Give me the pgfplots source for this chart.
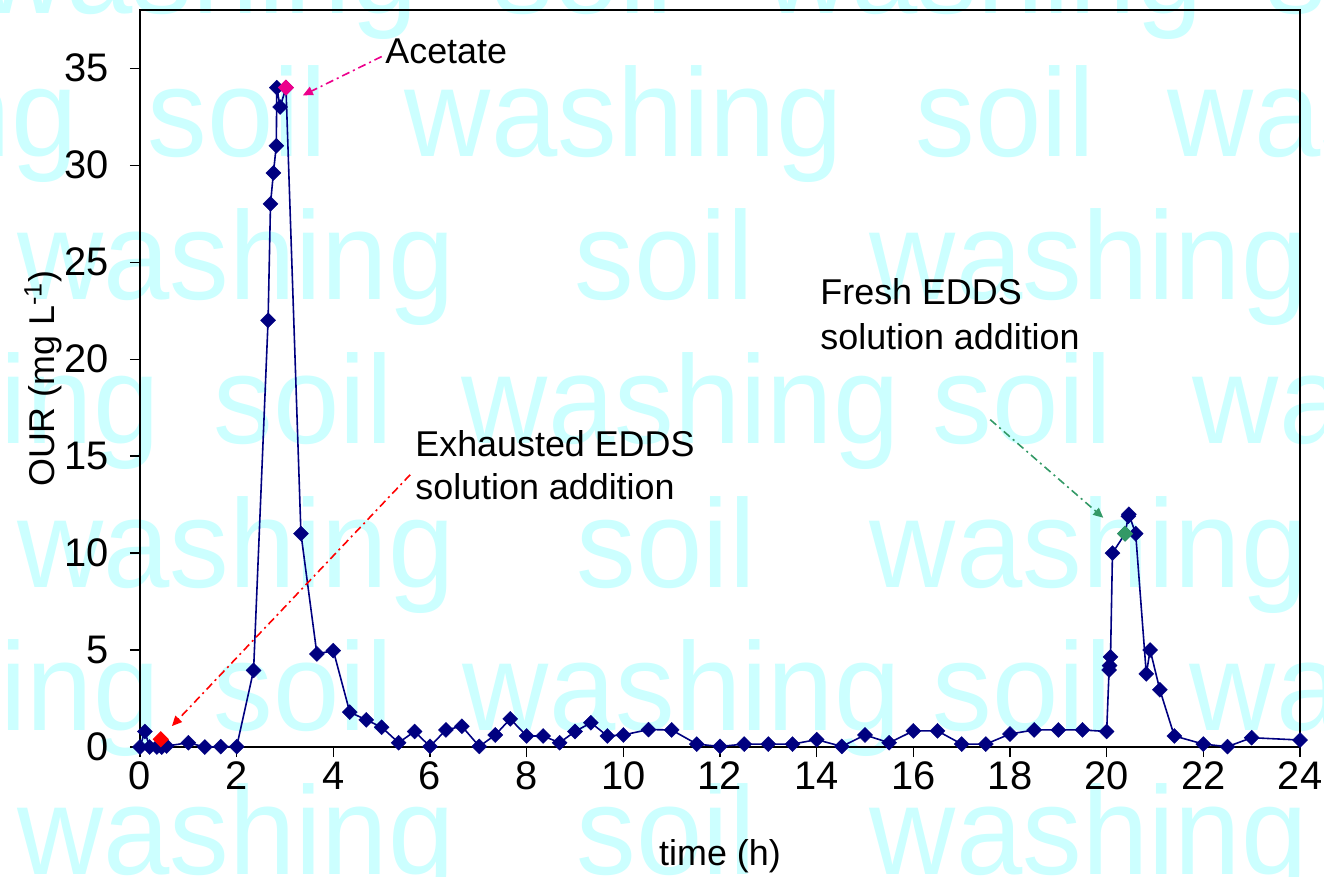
\documentclass[border=0pt]{standalone}
\usepackage{fontspec}
\setmainfont{Liberation Sans}
\newfontfamily\wmfont[FakeStretch=0.95]{Liberation Sans}
\usepackage{pgfplots}
\pgfplotsset{compat=1.18}
\usetikzlibrary{arrows.meta}
\definecolor{wm}{RGB}{204,255,255}
\definecolor{navyb}{RGB}{0,0,128}
\definecolor{sgreen}{RGB}{51,153,102}
\begin{document}
\begin{tikzpicture}
\useasboundingbox (0,0) rectangle (662bp,-438.5bp);
\begin{scope}[x=0.5bp,y=-0.5bp,every node/.style={anchor=base west,inner sep=0,outer sep=0,text=wm,font=\wmfont\fontsize{63}{63}\selectfont}]
% row A
\node at (-20,13) {washing}; \node at (494,13) {soil}; \node at (765,13) {washing}; \node at (1267,13) {soil};
% row B
\node at (-360,157) {washing}; \node at (148,157) {soil}; \node at (405,157) {washing}; \node at (916,157) {soil}; \node at (1168,157) {washing};
% row C
\node at (17,300) {washing}; \node at (575,300) {soil}; \node at (870,300) {washing};
% row D
\node at (-278,444) {washing}; \node at (214,444) {soil}; \node at (462,444) {washing}; \node at (933,444) {soil}; \node at (1193,444) {washing};
% row E
\node at (17,588) {washing}; \node at (577,588) {soil}; \node at (870,588) {washing};
% row F
\node at (-278,731) {washing}; \node at (214,731) {soil}; \node at (463,731) {washing}; \node at (933,731) {soil}; \node at (1190,731) {washing};
% row G
\node at (17,875) {washing}; \node at (577,875) {soil}; \node at (870,875) {washing};
\end{scope}
\begin{axis}[
  at={(70bp,-373.5bp)}, anchor=south west,
  width=580bp, height=368.5bp, scale only axis,
  xmin=0, xmax=24, ymin=0, ymax=38,
  xtick={0,2,...,24}, ytick={0,5,...,35},
  xtick pos=bottom, ytick pos=left,
  tick align=outside, major tick length=5bp,
  tick style={black, line width=0.6pt},
  axis line style={black, line width=0.8pt},
  /pgf/number format/assume math mode=true,
  ticklabel style={font=\fontsize{20}{22}\selectfont},
  yticklabel style={xshift=-7bp},
  xticklabel style={yshift=1bp},
  label style={font=\fontsize{18}{20}\selectfont},
  xlabel={time (h)},
  ylabel={OUR (mg L\textsuperscript{-1})},
  xlabel style={at={(axis description cs:0.5,0)}, anchor=base, yshift=-59bp},
  ylabel style={at={(axis description cs:0,0.5)}, anchor=base, yshift=43bp},
  clip=false,
]
\addplot[navyb, line width=0.8pt, mark=square*, mark size=2.65bp, mark options={rotate=45, fill=navyb, draw=navyb, line width=0.2pt}] coordinates {
(0,0) (0.1,0.8) (0.2,0) (0.35,0) (0.45,0) (0.55,0.05)
(1.0,0.22) (1.34,0) (1.67,0.02) (2.0,0.02) (2.35,3.95)
(2.65,22) (2.7,28) (2.76,29.6) (2.82,31) (2.83,34) (2.9,33) (3.02,34)
(3.33,11) (3.66,4.8) (4.0,4.97) (4.34,1.8) (4.68,1.4) (5.0,1.02)
(5.35,0.22) (5.68,0.8) (6.0,0.03) (6.33,0.88) (6.66,1.07) (7.02,0.03)
(7.35,0.62) (7.66,1.45) (8.0,0.57) (8.34,0.57) (8.68,0.22) (9.0,0.8)
(9.33,1.25) (9.67,0.57) (10.0,0.62) (10.52,0.9) (11.0,0.88) (11.52,0.15)
(12.0,0.03) (12.5,0.15) (13.0,0.15) (13.5,0.15) (14.0,0.38) (14.52,0.03)
(15.0,0.62) (15.5,0.22) (16.0,0.83) (16.5,0.83) (17.0,0.15) (17.5,0.15)
(18.0,0.67) (18.5,0.88) (19.0,0.88) (19.5,0.88) (20.0,0.8)
(20.05,3.97) (20.06,4.2) (20.08,4.65) (20.12,10.0) (20.38,11.0)
(20.45,11.9) (20.46,12.0) (20.6,11.0) (20.82,3.77) (20.9,5.0) (21.1,2.95)
(21.4,0.57) (22.0,0.15) (22.5,0.02) (23.0,0.48) (24.0,0.36)
};
\addplot[only marks, mark=square*, mark size=2.65bp, mark options={rotate=45, fill=red, draw=red}] coordinates {(0.43,0.4)};
\addplot[only marks, mark=square*, mark size=2.65bp, mark options={rotate=45, fill=magenta, draw=magenta}] coordinates {(3.02,34)};
\addplot[only marks, mark=square*, mark size=2.65bp, mark options={rotate=45, fill=sgreen, draw=sgreen}] coordinates {(20.38,11.0)};
\begin{scope}[every node/.style={anchor=base west, inner sep=0, font=\fontsize{18}{20}\selectfont}]
\node at (axis cs:5.07,35.26) {Acetate};
\node at (axis cs:5.69,14.97) {Exhausted EDDS};
\node at (axis cs:5.69,12.75) {solution addition};
\node at (axis cs:14.07,22.82) {Fresh EDDS};
\node at (axis cs:14.07,20.5) {solution addition};
\end{scope}
\draw[magenta, line width=0.8pt, dash pattern=on 4bp off 2bp on 1bp off 2bp, -{Triangle[length=5bp,width=4.5bp]}] (axis cs:5.0,35.6) -- (axis cs:3.37,33.6);
\draw[red, line width=0.8pt, dash pattern=on 4bp off 2bp on 1bp off 2bp, -{Triangle[length=5bp,width=4.5bp]}] (axis cs:5.59,14.04) -- (axis cs:0.66,1.08);
\draw[sgreen, line width=0.8pt, dash pattern=on 4bp off 2bp on 1bp off 2bp, -{Triangle[length=5bp,width=4.5bp]}] (axis cs:17.59,16.88) -- (axis cs:19.93,11.82);
\end{axis}
\end{tikzpicture}
\end{document}
